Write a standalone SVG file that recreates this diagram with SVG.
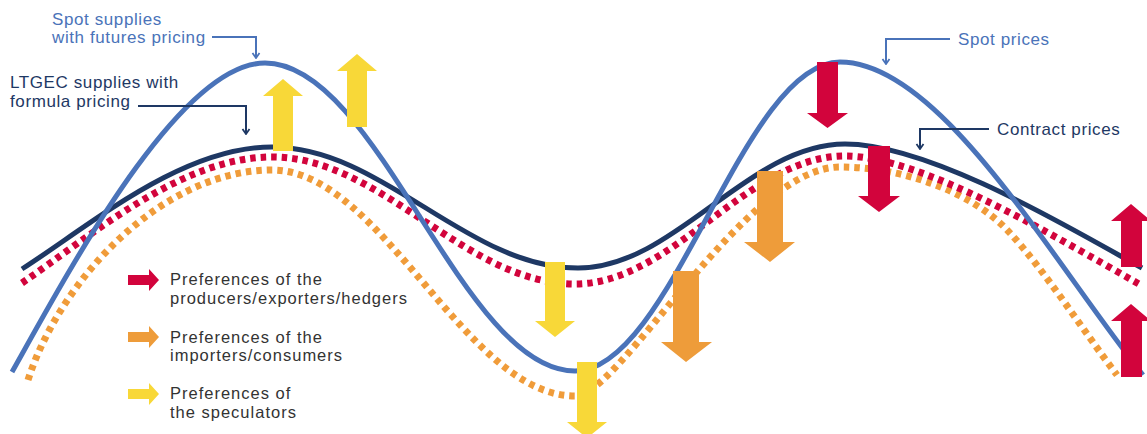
<svg xmlns="http://www.w3.org/2000/svg" width="1147" height="434" viewBox="0 0 1147 434">
<defs>
<style>
.crv{fill:none;stroke-width:5;stroke-linecap:butt}
.dash{fill:none;stroke-width:7;stroke-dasharray:5.5 5}
.spot{stroke:#4a73b9}
.ctr{stroke:#1e3864}
.red{fill:#d2043c}
.org{fill:#ee9c3a}
.yel{fill:#f8d838}
.lead{fill:none;stroke-width:2}
.t{font-family:"Liberation Sans",Arial,sans-serif;font-size:17px;letter-spacing:0.6px}
.lg{font-family:"Liberation Sans",Arial,sans-serif;font-size:16.5px;letter-spacing:1px;fill:#333333}
</style>
<marker id="hb" viewBox="0 0 10 10" refX="5" refY="9" markerWidth="10" markerHeight="10" markerUnits="userSpaceOnUse" orient="0">
<path d="M1.5,4 L5,9 L8.5,4" fill="none" stroke="#4a73b9" stroke-width="1.8"/>
</marker>
<marker id="hn" viewBox="0 0 10 10" refX="5" refY="9" markerWidth="10" markerHeight="10" markerUnits="userSpaceOnUse" orient="0">
<path d="M1.5,4 L5,9 L8.5,4" fill="none" stroke="#1e3864" stroke-width="1.8"/>
</marker>
</defs>
<rect width="1147" height="434" fill="#ffffff"/>
<g id="connectors">
<path id="orange-curve" class="dash" stroke="#f09c3a" d="M28,380 C60,280 162,170 272,170 C382,170 465,396 575,396 C620,396 745,167 840,167 C898,167 970,189 1010,233 C1045,271 1082,329 1117,375"/>
<path id="red-curve" class="dash" stroke="#d2043c" d="M22,283 C92,235 182,157 272,157 C382,157 465,284 575,284 C673,284 747,156 845,156 C920,156 1047,232 1139,284"/>
<path id="contract-curve" class="crv ctr" d="M22,269 C92,224 182,147 272,147 C383,147 467,268 578,268 C675,268 748,144 845,144 C930,144 1070,228 1142,268"/>
<path id="spot-curve" class="crv spot" d="M12,372 C72,265 180,63 265,63 C378,63 462,371 575,371 C672,371 743,62 840,62 C940,62 1050,258 1143,375"/>
<path class="lead spot" d="M212,37 H256 V58" marker-end="url(#hb)"/>
<path class="lead ctr" d="M138,106 H246 V134" marker-end="url(#hn)"/>
<path class="lead spot" d="M950,39 H886 V64" marker-end="url(#hb)"/>
<path class="lead ctr" d="M989,129 H920 V149" marker-end="url(#hn)"/>
</g>
<g id="arrows">
<polygon class="yel" points="283,79 303,96 293,96 293,151 273,151 273,96 263,96"/>
<polygon class="yel" points="357,54 377,71 367,71 367,127 347,127 347,71 337,71"/>
<polygon class="yel" points="545,262 565,262 565,321 575,321 555,337 535,321 545,321"/>
<polygon class="yel" points="577,362 597,362 597,422 607,422 587,438 567,422 577,422"/>
<polygon class="org" points="673,271 699,271 699,342 712,342 686,362 661,342 673,342"/>
<polygon class="org" points="757,171 783,171 783,242 795,242 770,262 744,242 757,242"/>
<polygon class="red" points="817,62 838,62 838,113 848,113 827.5,128 807,113 817,113"/>
<polygon class="red" points="868,146 890,146 890,196 900,196 879,212 858,196 868,196"/>
<polygon class="red" points="1131,204 1151,221 1142,221 1142,267 1121,267 1121,221 1111,221"/>
<polygon class="red" points="1131,304 1151,321 1142,321 1142,377 1121,377 1121,321 1111,321"/>
</g>
<g id="label-spot-supplies">
<text class="t" fill="#4a73b9" x="52" y="25">Spot supplies</text>
<text class="t" fill="#4a73b9" x="52" y="43">with futures pricing</text>
</g>
<g id="label-ltgec">
<text class="t" fill="#1e3864" x="10" y="88">LTGEC supplies with</text>
<text class="t" fill="#1e3864" x="10" y="107">formula pricing</text>
</g>
<g id="label-spot-prices">
<text class="t" fill="#4a73b9" x="958" y="45">Spot prices</text>
</g>
<g id="label-contract-prices">
<text class="t" fill="#1e3864" x="997" y="135">Contract prices</text>
</g>
<g id="legend">
<g id="legend-producers">
<polygon class="red" points="128,275 149,275 149,269 159,280 149,291 149,285 128,285"/>
<text class="lg" x="170" y="285">Preferences of the</text>
<text class="lg" x="170" y="304">producers/exporters/hedgers</text>
</g>
<g id="legend-importers">
<polygon class="org" points="128,332 149,332 149,326 159,337 149,348 149,342 128,342"/>
<text class="lg" x="170" y="343">Preferences of the</text>
<text class="lg" x="170" y="361">importers/consumers</text>
</g>
<g id="legend-speculators">
<polygon class="yel" points="128,389 149,389 149,383 159,394 149,405 149,399 128,399"/>
<text class="lg" x="170" y="399">Preferences of</text>
<text class="lg" x="170" y="418">the speculators</text>
</g>
</g>
</svg>
